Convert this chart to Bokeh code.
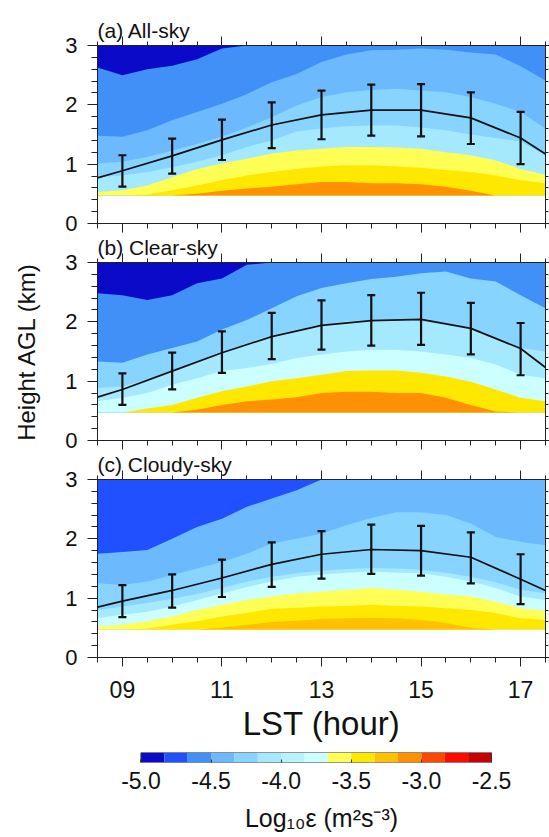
import numpy as np
from bokeh.plotting import figure
from bokeh.layouts import column
from bokeh.models import FixedTicker, LinearAxis, Range1d
from bokeh.embed import file_html
from bokeh.resources import INLINE

FONT = "Liberation Sans"

# ---------------- colour scale (log10 epsilon) ----------------
level_edges = [-5.0, -4.833, -4.667, -4.5, -4.333, -4.167, -4.0, -3.833,
               -3.667, -3.5, -3.333, -3.167, -3.0, -2.833, -2.667, -2.5]
level_colors = ["#0a0ac8", "#2050ff", "#4090f8", "#6cbafd", "#86d4ff",
                "#a4e9ff", "#b6f2ff", "#ccffff", "#ffff55", "#ffe800",
                "#ffc000", "#ff9000", "#ff4800", "#ff0a00", "#c80000"]
cbar_ticks = [-5.0, -4.5, -4.0, -3.5, -3.0, -2.5]
cbar_tick_labels = ["-5.0", "-4.5", "-4.0", "-3.5", "-3.0", "-2.5"]

# ---------------- axes ----------------
hour_ticks = [9, 11, 13, 15, 17]
hour_tick_labels = ["09", "11", "13", "15", "17"]
lowest_gate_km = 0.47
top_km = 3.0

# LST of the contour boundary samples
hrs = [8.5, 9.0, 9.5, 10.0, 10.5, 11.0, 11.5, 12.0, 12.5, 13.0, 13.5, 14.0,
       14.5, 15.0, 15.5, 16.0, 16.5, 17.0, 17.5]

# ---- (a) All-sky: upper edge (km) of region with colour >= level index ----
a_base = 0
a_levels = [2, 3, 4, 5, 8, 9, 11]
a_top_2 = [2.63, 2.50, 2.60, 2.66, 2.77, 2.95, 3.0, 3.0, 3.0, 3.0, 3.0, 3.0, 3.0, 3.0, 3.0, 3.0, 3.0, 3.0, 3.0]
a_top_3 = [1.48, 1.46, 1.57, 1.74, 1.88, 2.02, 2.18, 2.38, 2.52, 2.72, 2.85, 2.92, 2.93, 2.95, 2.93, 2.88, 2.85, 2.65, 2.41]
a_top_4 = [1.01, 1.04, 1.12, 1.23, 1.34, 1.46, 1.62, 1.79, 1.99, 2.13, 2.21, 2.25, 2.27, 2.24, 2.21, 2.13, 2.02, 1.88, 1.60]
a_top_5 = [0.78, 0.81, 0.87, 0.95, 1.04, 1.15, 1.29, 1.40, 1.55, 1.60, 1.64, 1.65, 1.65, 1.62, 1.57, 1.50, 1.44, 1.38, 1.15]
a_top_8 = [0.53, 0.56, 0.64, 0.78, 0.92, 1.01, 1.09, 1.18, 1.23, 1.26, 1.29, 1.29, 1.28, 1.26, 1.20, 1.15, 1.06, 0.92, 0.82]
a_top_9 = [0.47, 0.47, 0.49, 0.56, 0.64, 0.73, 0.81, 0.87, 0.92, 0.96, 0.98, 0.98, 0.96, 0.94, 0.90, 0.87, 0.81, 0.73, 0.68]
a_top_11 = [0.47, 0.47, 0.47, 0.47, 0.50, 0.55, 0.59, 0.62, 0.66, 0.70, 0.70, 0.68, 0.68, 0.66, 0.62, 0.55, 0.47, 0.47, 0.47]

# ---- (b) Clear-sky ----
b_base = 0
b_levels = [2, 4, 5, 7, 9, 11]
b_top_2 = [2.48, 2.45, 2.37, 2.45, 2.65, 2.73, 2.96, 3.0, 3.0, 3.0, 3.0, 3.0, 3.0, 3.0, 3.0, 3.0, 3.0, 3.0, 3.0]
b_top_4 = [1.33, 1.31, 1.45, 1.56, 1.67, 1.87, 2.03, 2.23, 2.43, 2.57, 2.65, 2.72, 2.76, 2.82, 2.85, 2.73, 2.68, 2.45, 2.23]
b_top_5 = [0.89, 0.91, 1.03, 1.17, 1.33, 1.50, 1.64, 1.78, 1.87, 1.95, 2.01, 2.03, 2.03, 2.01, 1.95, 1.87, 1.73, 1.56, 1.50]
b_top_7 = [0.66, 0.72, 0.80, 0.94, 1.05, 1.17, 1.22, 1.29, 1.39, 1.45, 1.50, 1.53, 1.53, 1.50, 1.45, 1.39, 1.28, 1.11, 1.05]
b_top_9 = [0.47, 0.47, 0.54, 0.60, 0.72, 0.83, 0.91, 1.00, 1.05, 1.11, 1.17, 1.18, 1.18, 1.14, 1.08, 0.99, 0.86, 0.72, 0.66]
b_top_11 = [0.47, 0.47, 0.47, 0.47, 0.52, 0.60, 0.66, 0.69, 0.73, 0.80, 0.82, 0.82, 0.80, 0.80, 0.72, 0.60, 0.49, 0.47, 0.47]

# ---- (c) Cloudy-sky ----
c_base = 1
c_levels = [3, 4, 5, 7, 8, 9, 10]
c_top_3 = [1.75, 1.78, 1.81, 2.00, 2.20, 2.34, 2.54, 2.68, 2.82, 3.0, 3.0, 3.0, 3.0, 3.0, 3.0, 3.0, 3.0, 3.0, 3.0]
c_top_4 = [1.25, 1.22, 1.28, 1.39, 1.50, 1.61, 1.75, 1.92, 2.00, 2.09, 2.23, 2.35, 2.45, 2.45, 2.40, 2.26, 2.03, 1.95, 1.89]
c_top_5 = [0.80, 0.86, 0.92, 0.99, 1.07, 1.17, 1.28, 1.36, 1.42, 1.46, 1.49, 1.51, 1.50, 1.48, 1.43, 1.36, 1.27, 1.14, 1.08]
c_top_7 = [0.66, 0.72, 0.77, 0.86, 0.97, 1.08, 1.19, 1.28, 1.36, 1.40, 1.43, 1.45, 1.43, 1.42, 1.36, 1.28, 1.17, 1.03, 0.97]
c_top_8 = [0.52, 0.55, 0.61, 0.69, 0.80, 0.89, 0.97, 1.03, 1.08, 1.11, 1.14, 1.17, 1.14, 1.11, 1.06, 1.03, 0.94, 0.83, 0.78]
c_top_9 = [0.47, 0.47, 0.49, 0.55, 0.61, 0.69, 0.75, 0.82, 0.84, 0.86, 0.87, 0.89, 0.87, 0.86, 0.83, 0.80, 0.75, 0.66, 0.63]
c_top_10 = [0.47, 0.47, 0.47, 0.47, 0.47, 0.50, 0.55, 0.60, 0.62, 0.65, 0.66, 0.67, 0.66, 0.63, 0.58, 0.50, 0.47, 0.47, 0.47]

# ---------------- mean height line and error bars ----------------
line_hours = [8.5, 9, 10, 11, 12, 13, 14, 15, 16, 17, 17.5]
a_line = [0.77, 0.89, 1.14, 1.41, 1.66, 1.83, 1.91, 1.91, 1.78, 1.44, 1.17]
b_line = [0.73, 0.86, 1.17, 1.48, 1.75, 1.94, 2.02, 2.04, 1.89, 1.55, 1.23]
c_line = [0.85, 0.95, 1.13, 1.34, 1.57, 1.74, 1.82, 1.80, 1.69, 1.32, 1.13]

err_hours = [9, 10, 11, 12, 13, 14, 15, 16, 17]
a_err_lo = [0.62, 0.84, 1.07, 1.27, 1.42, 1.48, 1.47, 1.34, 1.00]
a_err_hi = [1.15, 1.43, 1.75, 2.04, 2.24, 2.34, 2.35, 2.21, 1.88]
b_err_lo = [0.60, 0.86, 1.14, 1.37, 1.53, 1.60, 1.61, 1.45, 1.10]
b_err_hi = [1.13, 1.48, 1.84, 2.15, 2.36, 2.45, 2.49, 2.32, 1.98]
c_err_lo = [0.68, 0.84, 1.02, 1.19, 1.33, 1.41, 1.38, 1.25, 0.90]
c_err_hi = [1.22, 1.40, 1.65, 1.94, 2.13, 2.24, 2.22, 2.11, 1.74]

AX_COLOR = "#222222"
TXT = "#111111"
FRAME_W = 448
FRAME_H = 178
LEFT = 97
RIGHT = 4


def style_axis(ax, ticker, show_labels, tick_out_major=10, tick_out_minor=6,
               label_size="23px"):
    ax.ticker = ticker
    ax.axis_line_color = AX_COLOR
    ax.major_tick_line_color = AX_COLOR
    ax.minor_tick_line_color = AX_COLOR
    ax.major_tick_in = 0
    ax.minor_tick_in = 0
    ax.major_tick_out = tick_out_major
    ax.minor_tick_out = tick_out_minor
    if show_labels:
        ax.major_label_text_font = FONT
        ax.major_label_text_font_size = label_size
        ax.major_label_text_color = TXT
    else:
        ax.major_label_text_font_size = "0px"
        ax.major_label_standoff = 0


def make_panel(title, base, levels, tops, line_y, err_lo, err_hi,
               top_border, bottom_border, xlabels=False, ylabel=None):
    p = figure(frame_width=FRAME_W, frame_height=FRAME_H,
               x_range=Range1d(8.5, 17.5), y_range=Range1d(0, 3),
               output_backend="svg", toolbar_location=None,
               x_axis_location=None, y_axis_location=None,
               min_border_left=LEFT, min_border_right=RIGHT,
               min_border_top=top_border, min_border_bottom=bottom_border,
               title=title)
    p.grid.visible = False
    p.outline_line_color = AX_COLOR
    p.outline_line_width = 1
    p.background_fill_color = "white"

    p.title.align = "left"
    p.title.offset = 0
    p.title.standoff = -11
    p.title.text_font = FONT
    p.title.text_font_size = "21px"
    p.title.text_font_style = "normal"
    p.title.text_color = TXT

    n = len(hrs)
    p.varea(x=hrs, y1=[lowest_gate_km] * n, y2=[top_km] * n,
            fill_color=level_colors[base])
    for idx, t in zip(levels, tops):
        p.varea(x=hrs, y1=[lowest_gate_km] * n, y2=t, fill_color=level_colors[idx])

    p.line(line_hours, line_y, line_color=TXT, line_width=1.7)
    p.segment(x0=err_hours, y0=err_lo, x1=err_hours, y1=err_hi,
              line_color=TXT, line_width=2.2)
    p.scatter(err_hours, err_lo, marker="dash", size=8, line_color=TXT, line_width=2.2)
    p.scatter(err_hours, err_hi, marker="dash", size=8, line_color=TXT, line_width=2.2)

    yt = FixedTicker(ticks=[0, 1, 2, 3],
                     minor_ticks=list(np.round(np.arange(0, 3.01, 0.2), 2)))
    xt = FixedTicker(ticks=hour_ticks, minor_ticks=list(np.arange(8.5, 17.51, 0.5)))

    left = LinearAxis()
    style_axis(left, yt, True, label_size="22px")
    left.major_label_standoff = 10
    if ylabel:
        left.axis_label = ylabel
        left.axis_label_text_font = FONT
        left.axis_label_text_font_size = "24px"
        left.axis_label_text_font_style = "normal"
        left.axis_label_text_color = TXT
        left.axis_label_standoff = 22
    p.add_layout(left, "left")

    right = LinearAxis()
    style_axis(right, yt, False, 4, 3)
    p.add_layout(right, "right")

    top = LinearAxis()
    style_axis(top, xt, False, 9, 4)
    p.add_layout(top, "above")

    bottom = LinearAxis()
    style_axis(bottom, xt, xlabels, 9, 5)
    if xlabels:
        bottom.major_label_overrides = {h: s for h, s in zip(hour_ticks, hour_tick_labels)}
        bottom.major_label_standoff = 14
        bottom.axis_label = "LST (hour)"
        bottom.axis_label_text_font = FONT
        bottom.axis_label_text_font_size = "33px"
        bottom.axis_label_text_font_style = "normal"
        bottom.axis_label_text_color = TXT
        bottom.axis_label_standoff = 4
    p.add_layout(bottom, "below")
    return p


pa = make_panel("(a) All-sky", a_base, a_levels,
                [a_top_2, a_top_3, a_top_4, a_top_5, a_top_8, a_top_9, a_top_11],
                a_line, a_err_lo, a_err_hi, 45, 12)
pb = make_panel("(b) Clear-sky", b_base, b_levels,
                [b_top_2, b_top_4, b_top_5, b_top_7, b_top_9, b_top_11],
                b_line, b_err_lo, b_err_hi, 27, 12, ylabel="Height AGL (km)")
pc = make_panel("(c) Cloudy-sky", c_base, c_levels,
                [c_top_3, c_top_4, c_top_5, c_top_7, c_top_8, c_top_9, c_top_10],
                c_line, c_err_lo, c_err_hi, 27, 90, xlabels=True)

# ---------------- colour bar ----------------
pcb = figure(frame_width=FRAME_W, frame_height=10,
             x_range=Range1d(-5.31, -2.115), y_range=Range1d(0, 1),
             output_backend="svg", toolbar_location=None,
             x_axis_location=None, y_axis_location=None,
             min_border_left=LEFT, min_border_right=RIGHT,
             min_border_top=5, min_border_bottom=80)
pcb.grid.visible = False
pcb.outline_line_color = None
pcb.quad(left=level_edges[:-1], right=level_edges[1:], bottom=0, top=1,
         fill_color=level_colors, line_color=None)
pcb.quad(left=[level_edges[0]], right=[level_edges[-1]], bottom=[0], top=[1],
         fill_color=None, line_color="#333333", line_width=1)
cax = LinearAxis()
cax.ticker = FixedTicker(ticks=cbar_ticks, minor_ticks=[])
cax.major_label_overrides = {t: s for t, s in zip(cbar_ticks, cbar_tick_labels)}
cax.axis_line_color = None
cax.major_tick_in = 3
cax.major_tick_out = 0
cax.major_tick_line_color = "#333333"
cax.major_label_standoff = 9
cax.major_label_text_font = FONT
cax.major_label_text_font_size = "23px"
cax.major_label_text_color = TXT
cax.axis_label = "Log\u2081\u2080\u03b5 (m\u00b2s\u207b\u00b3)"
cax.axis_label_text_font = FONT
cax.axis_label_text_font_size = "25px"
cax.axis_label_text_font_style = "normal"
cax.axis_label_text_color = TXT
cax.axis_label_standoff = 12
pcb.add_layout(cax, "below")

layout = column(pa, pb, pc, pcb, spacing=0)
open("out.html", "w").write(file_html(layout, INLINE))
